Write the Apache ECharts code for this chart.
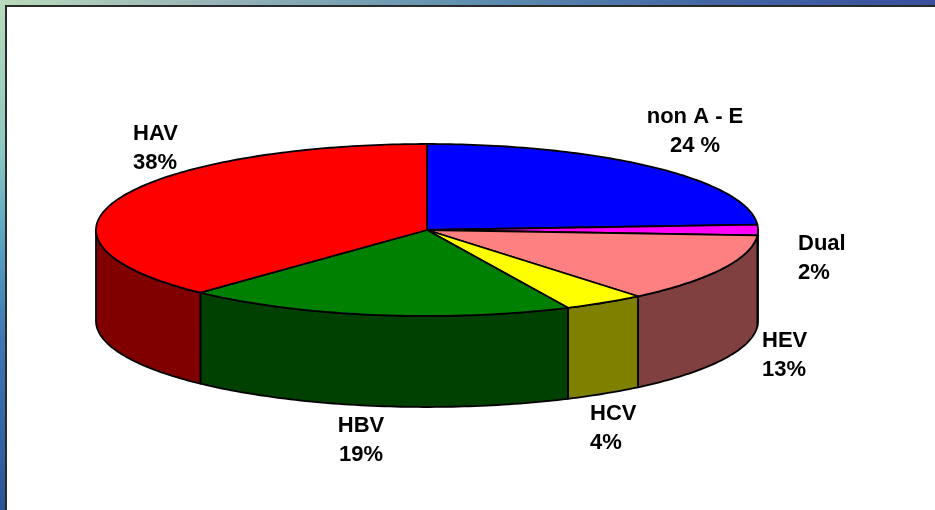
<!DOCTYPE html>
<html>
<head>
<meta charset="utf-8">
<title>Hepatitis share</title>
<style>
  html, body { margin: 0; padding: 0; background: #fff; }
  #chart { width: 935px; height: 510px; }
</style>
<script src="https://cdn.jsdelivr.net/npm/echarts@6/dist/echarts.min.js"></script>
</head>
<body>
<div id="chart"></div>
<script>
// clockwise from 12 o'clock
const categories = ["non A - E", "Dual", "HEV", "HCV", "HBV", "HAV"];
const values = [24, 2, 13, 4, 19, 38];
const percentLabels = ["24 %", "2%", "13%", "4%", "19%", "38%"];
const topColors = ["#0000ff", "#ff00ff", "#ff8080", "#ffff00", "#008000", "#ff0000"];
const sideColors = ["#000080", "#800080", "#804040", "#808000", "#004000", "#800000"];

const cx = 427, cy = 230, rx = 331, ry = 86, depth = 91;
const total = values.reduce((a, b) => a + b, 0);

let running = 0;
const sliceData = values.map((v, i) => {
  const row = [running, running + v, i];
  running += v;
  return row;
});

// label anchor per category: x, top of the text block, alignment
const labelLayout = [
  { x: 695, y: 102, align: "center" },
  { x: 798, y: 229, align: "left" },
  { x: 762, y: 326, align: "left" },
  { x: 590, y: 399, align: "left" },
  { x: 361, y: 411, align: "center" },
  { x: 133, y: 119, align: "left" }
];

function rimPoint(deg, dy) {
  const a = deg * Math.PI / 180;
  return [cx + rx * Math.sin(a), cy - ry * Math.cos(a) + dy];
}

function arc(from, to, dy) {
  const pts = [];
  const steps = Math.max(2, Math.ceil(to - from));
  for (let i = 0; i <= steps; i++) {
    pts.push(rimPoint(from + (to - from) * i / steps, dy));
  }
  return pts;
}

function renderTop(params, api) {
  const from = api.value(0) / total * 360;
  const to = api.value(1) / total * 360;
  return {
    type: "polygon",
    shape: { points: [[cx, cy]].concat(arc(from, to, 0)) },
    style: { fill: topColors[api.value(2)], stroke: "#000", lineWidth: 1.8, lineJoin: "round" }
  };
}

function renderSide(params, api) {
  // only the front half of the rim can be seen
  const from = Math.max(api.value(0) / total * 360, 90);
  const to = Math.min(api.value(1) / total * 360, 270);
  if (to <= from) return null;
  return {
    type: "polygon",
    shape: { points: arc(from, to, 0).concat(arc(from, to, depth).reverse()) },
    style: { fill: sideColors[api.value(2)], stroke: "#000", lineWidth: 1.8, lineJoin: "round" }
  };
}

const labelGraphics = categories.map((name, i) => ({
  type: "text",
  x: labelLayout[i].x,
  y: labelLayout[i].y,
  z: 10,
  style: {
    text: name + "\n" + percentLabels[i],
    fill: "#000",
    font: "bold 22px 'Liberation Sans', Arial, sans-serif",
    lineHeight: 29,
    align: labelLayout[i].align,
    verticalAlign: "top"
  }
}));

const mc = echarts.init(document.getElementById("chart"), null, { renderer: "canvas" });
mc.setOption({
  animation: false,
  backgroundColor: "#fff",
  graphic: [
    {
      type: "rect",
      shape: { x: 0, y: 0, width: 935, height: 5 },
      style: {
        fill: new echarts.graphic.LinearGradient(0, 0, 1, 0, [
          { offset: 0, color: "#b8dcbc" },
          { offset: 0.2, color: "#9db8b8" },
          { offset: 0.5, color: "#5f90b0" },
          { offset: 0.75, color: "#4468a4" },
          { offset: 1, color: "#3a4f9c" }
        ])
      }
    },
    {
      type: "rect",
      shape: { x: 0, y: 0, width: 5, height: 510 },
      style: {
        fill: new echarts.graphic.LinearGradient(0, 0, 0, 1, [
          { offset: 0, color: "#b8dcbc" },
          { offset: 0.3, color: "#8cc8c0" },
          { offset: 0.45, color: "#5ea8c4" },
          { offset: 0.65, color: "#3f7ab4" },
          { offset: 1, color: "#2c5498" }
        ])
      }
    },
    { type: "rect", shape: { x: 5, y: 5, width: 930, height: 2 }, style: { fill: "#2a2a2a" } },
    { type: "rect", shape: { x: 5, y: 5, width: 2, height: 505 }, style: { fill: "#2a2a2a" } }
  ].concat(labelGraphics),
  series: [
    { type: "custom", coordinateSystem: "none", silent: true, z: 2, renderItem: renderSide, data: sliceData },
    { type: "custom", coordinateSystem: "none", silent: true, z: 3, renderItem: renderTop, data: sliceData }
  ]
});
</script>
</body>
</html>
